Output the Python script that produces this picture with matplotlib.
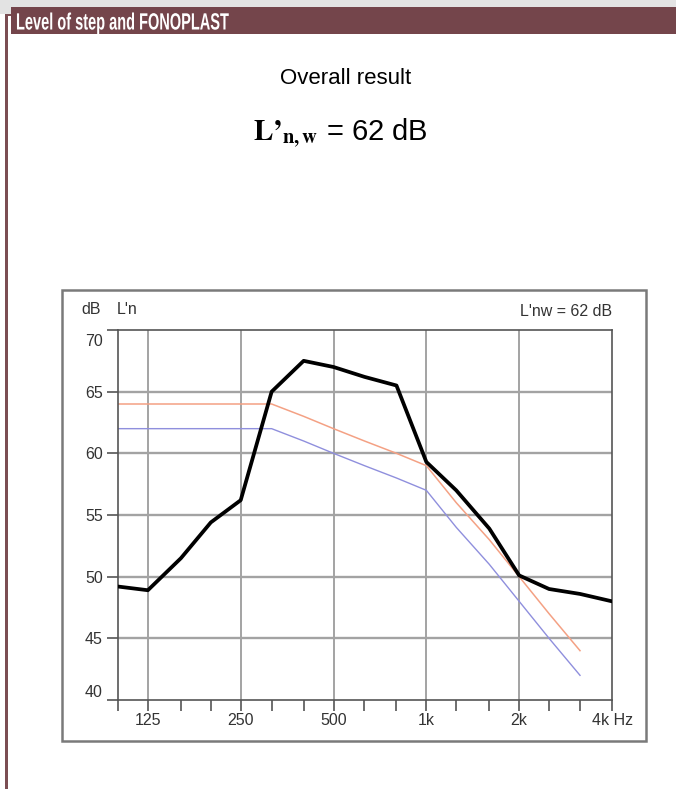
import matplotlib
matplotlib.use('Agg')
import matplotlib.pyplot as plt
from matplotlib.patches import Rectangle, PathPatch
from matplotlib.textpath import TextPath
from matplotlib.font_manager import FontProperties
from matplotlib.transforms import Affine2D, ScaledTranslation

# third-octave bands, 100 Hz .. 4 kHz
freqs = [100, 125, 160, 200, 250, 315, 400, 500, 630, 800,
         1000, 1250, 1600, 2000, 2500, 3150, 4000]
measured = [49.2, 48.9, 51.5, 54.4, 56.2, 65.0, 67.5, 67.0, 66.2, 65.5,
            59.3, 57.0, 53.9, 50.1, 49.0, 48.6, 48.0]
ref_freqs = [100, 125, 160, 200, 250, 315, 400, 500, 630, 800,
             1000, 1250, 1600, 2000, 2500, 3150]
ref_shifted = [64, 64, 64, 64, 64, 64, 63, 62, 61, 60, 59, 56, 53, 50, 47, 44]
ref_curve = [62, 62, 62, 62, 62, 62, 61, 60, 59, 58, 57, 54, 51, 48, 45, 42]
label_freqs = [125, 250, 500, 1000, 2000, 4000]
label_texts = ['125', '250', '500', '1k', '2k', '4k Hz']
y_ticks = [40, 45, 50, 55, 60, 65, 70]

W, H = 676, 789
plt.rcParams['font.family'] = ['Liberation Sans', 'DejaVu Sans']
plt.rcParams['mathtext.fontset'] = 'stix'

fig = plt.figure(figsize=(W / 100, H / 100), dpi=100)


def fx(x):
    return x / W


def fy(y):
    return 1 - y / H


def box(x0, y0, x1, y1, **kw):
    fig.patches.append(Rectangle((fx(x0), fy(y1)), fx(x1) - fx(x0), fy(y0) - fy(y1),
                                 transform=fig.transFigure, figure=fig, **kw))


# page decoration
box(0, 0, W, 7, facecolor='#e3e3e3', edgecolor='none')
box(0, 7, 11, 14, facecolor='#e3e3e3', edgecolor='none')
box(11, 7, W, 34, facecolor='#74454b', edgecolor='none')
box(5, 14, 7.5, H, facecolor='#7b4e53', edgecolor='none')
box(5, 14, 11, 16, facecolor='#7b4e53', edgecolor='none')

# header text in a condensed look: bold glyph outlines squeezed sideways
hdr = TextPath((0, 0), 'Level of step and FONOPLAST', size=23.5,
               prop=FontProperties(family='Liberation Sans', weight='bold'))
hdr_tr = Affine2D().scale(0.62, 1.0).translate(16, H - 29.5)
fig.patches.append(PathPatch(hdr, transform=hdr_tr, facecolor='white',
                             edgecolor='none', figure=fig))

fig.text(fx(346), fy(79), 'Overall result', fontsize=16, ha='center', va='center')
fig.text(fx(340), fy(133), '$\\mathbf{L\u2019}_{\\mathbf{n,w}}$ = 62 dB', fontsize=21,
         ha='center', va='center')

# chart frame
box(62, 290, 646, 741, facecolor='none', edgecolor='#7a7a7a', linewidth=1.8)

ax = fig.add_axes([fx(118), fy(700), fx(612) - fx(118), fy(330) - fy(700)])
ax.set_xscale('log', base=2)
ax.set_xlim(100, 4000)
ax.set_ylim(40, 70)

for f in label_freqs[:-1]:
    ax.axvline(f, color='#a3a3a3', lw=1.4, zorder=1)
for v in y_ticks[1:-1]:
    ax.axhline(v, color='#a3a3a3', lw=1.7, zorder=1)

ax.plot(ref_freqs, ref_shifted, color='#f4a184', lw=1.1, zorder=2)
ax.plot(ref_freqs, ref_curve, color='#8f8fdd', lw=1.0, zorder=2)
ax.plot(freqs, measured, color='black', lw=2.7, zorder=3, solid_joinstyle='round')

ax.set_xticks(freqs)
ax.set_xticklabels([label_texts[label_freqs.index(f)] if f in label_freqs else ''
                    for f in freqs])
ax.xaxis.set_minor_locator(matplotlib.ticker.NullLocator())
ax.set_yticks(y_ticks)
ax.set_yticklabels([str(v) for v in y_ticks])
ax.tick_params(axis='both', length=8, width=1.2, color='#555555',
               labelsize=11.5, labelcolor='#333333')
ax.tick_params(axis='x', pad=1.5)
ax.tick_params(axis='y', pad=3)
ylabels = ax.get_yticklabels()
ylabels[0].set_va('bottom')
ylabels[-1].set_va('top')
# top label sits a little below the 70 line in the original
ylabels[-1].set_transform(ylabels[-1].get_transform() +
                          ScaledTranslation(0, -4 / 100, fig.dpi_scale_trans))
for s in ax.spines.values():
    s.set_color('#555555')
    s.set_linewidth(1.2)

fig.text(fx(81), fy(310), 'dB', fontsize=11.5, color='#333333', va='center')
fig.text(fx(117), fy(310), "L'n", fontsize=11.5, color='#333333', va='center')
fig.text(fx(612), fy(311), "L'nw = 62 dB", fontsize=11.5, color='#333333',
         va='center', ha='right')

fig.savefig('out.png', dpi=100)
